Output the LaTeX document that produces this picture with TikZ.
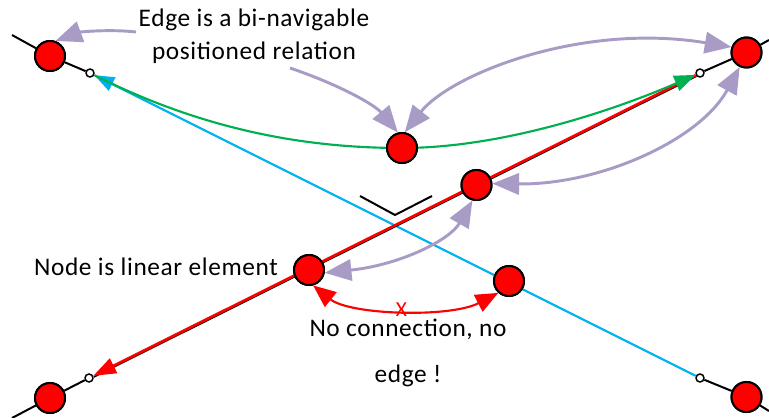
\documentclass[tikz,border=0pt]{standalone}
\usepackage{fontspec}
\setmainfont{Carlito}[LetterSpace=2.5]
\usetikzlibrary{arrows.meta}
\definecolor{lav}{RGB}{168,155,197}
\definecolor{cblue}{RGB}{0,176,240}
\definecolor{cgreen}{RGB}{0,176,80}
\definecolor{cred}{RGB}{255,0,0}
\tikzset{
  bignode/.style={circle,draw=black,fill=cred,line width=1.5pt,minimum size=22.5pt,inner sep=0pt},
  endpt/.style={circle,draw=black,fill=white,line width=1.1pt,minimum size=6pt,inner sep=0pt},
  relarrow/.style={draw=lav,line width=2.2pt,{Triangle[length=20pt,width=16pt]}-{Triangle[length=20pt,width=16pt]}},
  relone/.style={draw=lav,line width=2.2pt,-{Triangle[length=20pt,width=16pt]}},
  blk/.style={draw=black,line width=1.5pt},
  lbl/.style={font=\fontsize{19}{24.75}\selectfont,align=center,inner sep=0pt},
  xmark/.style={text=cred,font=\fontsize{16}{16}\selectfont,inner sep=0pt}
}
\begin{document}
\begin{tikzpicture}[x=0.75pt,y=-0.75pt]
\useasboundingbox (0,0) rectangle (769,418);
% main nodes
\node[bignode] (n1) at (50,56) {};
\node[bignode] (n2) at (746.5,52.5) {};
\node[bignode] (n3) at (50,398) {};
\node[bignode] (n4) at (746.5,397) {};
\node[bignode] (m) at (402,148) {};
\node[bignode] (a) at (476.5,185) {};
\node[bignode] (b) at (309,270) {};
\node[bignode] (c) at (509,281) {};
% end points
\node[endpt] (s1) at (90,73) {};
\node[endpt] (s2) at (700,73) {};
\node[endpt] (s3) at (89,378) {};
\node[endpt] (s4) at (700,378) {};
\coordinate (e1) at (12,35);
\coordinate (e2) at (769,40);
\coordinate (e3) at (12,418);
\coordinate (e4) at (769,411);
% black element lines
\draw[blk] (e1) -- (n1) -- (s1);
\draw[blk] (s2) -- (n2) -- (e2);
\draw[blk] (e3) -- (n3) -- (s3);
\draw[blk] (s4) -- (n4) -- (e4);
% redraw nodes over lines
\node[bignode] at (n1) {};
\node[bignode] at (n2) {};
\node[bignode] at (n3) {};
\node[bignode] at (n4) {};
% blue line
\draw[cblue,line width=1.6pt,-{Triangle[length=15pt,width=11pt]}] (s4) -- (s1);
\node[bignode] at (c) {};
% red line with black shadow
\draw[black,line width=1.2pt,transform canvas={xshift=0.5pt,yshift=-0.8pt}] (s2) -- (s3);
\draw[cred,line width=2pt,-{Triangle[length=17pt,width=12pt]}] (s2) -- (s3);
\node[bignode] at (a) {};
\node[bignode] at (b) {};
% green edge
\draw[cgreen,line width=1.6pt,-{Triangle[length=16pt,width=12pt]}] (s1) .. controls (200,128) and (300,148) .. (m.center) .. controls (500,148) and (610,112) .. (s2);
\node[bignode] at (m) {};
% V mark
\draw[blk] (360,196) -- (395,215) -- (432,196);
% texts
\node[lbl] (t1) at (254,36) {Edge is a bi-navigable\\positioned relation};
\node[lbl] (t2) at (156,267) {Node is linear element};
\node[lbl,font=\fontsize{19}{34.5}\selectfont] (t3) at (408,353) {No connection, no\\edge !};
\coordinate (p1) at (136,32);
\coordinate (p2) at (290,68);
% lavender relation arrows
\draw[relone] (p1) .. controls (110,29) and (80,32) .. (n1.70);
\draw[relone] (p2) .. controls (340,85) and (375,105) .. (m.105);
\draw[relarrow] (m.80) .. controls (450,75) and (580,22) .. (n2.160);
\draw[relarrow] (a.5) .. controls (600,185) and (700,140) .. (n2.245);
\draw[relarrow] (b.-10) .. controls (400,265) and (450,240) .. (a.255);
% no connection
\draw[cred,line width=1.6pt,{Triangle[length=17pt,width=14pt]}-{Triangle[length=17pt,width=14pt]}] (b.-75) .. controls (350,315) and (450,318) .. coordinate[pos=0.5] (xm) (c.228);
\node[xmark] (xlabel) at (xm) {X};
\end{tikzpicture}
\end{document}
